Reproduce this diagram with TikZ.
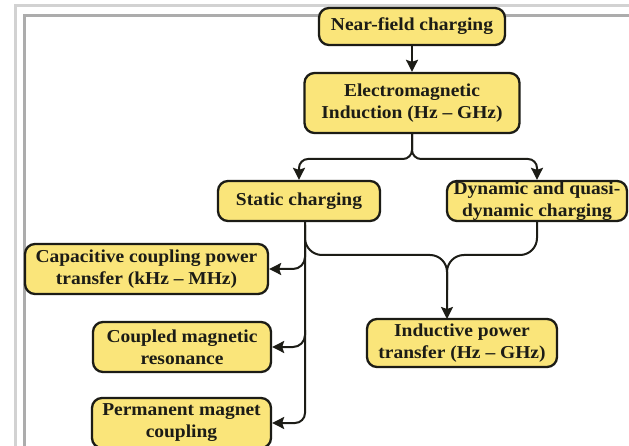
\documentclass[tikz,border=0pt]{standalone}
\usepackage{fontspec}
\newfontfamily\boxfont{Liberation Serif}[FakeStretch=1.07,Ligatures=TeX]
\usetikzlibrary{arrows.meta,calc}
\definecolor{boxyellow}{RGB}{250,229,122}
\definecolor{inkdark}{RGB}{28,28,22}
\tikzset{
  fbox/.style={draw=inkdark, fill=boxyellow, line width=2.3pt, rounded corners=10pt,
    align=center, inner sep=0pt, text=inkdark,
    font=\boxfont\bfseries\fontsize{18.2pt}{22pt}\selectfont},
  conn/.style={draw=inkdark, line width=2pt},
  arr/.style={conn, -{Stealth[length=12pt,width=12pt,inset=2pt]}},
}
\begin{document}
\begin{tikzpicture}[x=1pt,y=-1pt]
\useasboundingbox (0,0) rectangle (629,446);
\clip (0,0) rectangle (629,446);
\fill[white] (0,0) rectangle (629,446);
% frame
\draw[gray!35, line width=3pt] (15,446) -- (15,6) -- (629,6);
\draw[gray!65, line width=3.5pt] (24.5,446) -- (24.5,15.5) -- (629,15.5);
% nodes
\node[fbox, minimum width=186pt, minimum height=37pt] (near) at (412,26.5) {Near-field charging};
\node[fbox, minimum width=215pt, minimum height=60pt] (em) at (412,103) {Electromagnetic\\Induction (Hz – GHz)};
\node[fbox, minimum width=162pt, minimum height=40pt] (static) at (299,201) {Static charging};
\node[fbox, minimum width=180pt, minimum height=40pt] (dyn) at (537,201) {Dynamic and quasi-\\dynamic charging};
\node[fbox, minimum width=243pt, minimum height=50pt] (cap) at (146.5,269) {Capacitive coupling power\\transfer (kHz – MHz)};
\node[fbox, minimum width=178pt, minimum height=50pt] (coup) at (182,347) {Coupled magnetic\\resonance};
\node[fbox, minimum width=179pt, minimum height=50pt] (perm) at (181.5,423) {Permanent magnet\\coupling};
\node[fbox, minimum width=190pt, minimum height=48pt] (ind) at (462,343) {Inductive power\\transfer (Hz – GHz)};
% coordinates
\coordinate (sb) at ($(static.south)+(6,0)$);
\coordinate (merge) at (447,255);
\coordinate (indtop) at (447,319);
% connectors
\draw[arr] (near.south) -- (em.north);
\draw[arr, rounded corners=9pt] (em.south) -- (412,159) -- (static.north |- 0,159) -- (static.north);
\draw[arr, rounded corners=9pt] (em.south) -- (412,159) -- (dyn.north |- 0,159) -- (dyn.north);
\draw[arr, rounded corners=10pt] (sb) -- (305,423) -- (perm.east);
\draw[arr, rounded corners=12pt] (305,245) -- (305,269) -- (cap.east);
\draw[arr, rounded corners=12pt] (305,330) -- (305,347) -- (coup.east);
\draw[conn, rounded corners=17pt] (305,225) -- (305,255) -- (merge) -- (447,290);
\draw[arr, rounded corners=17pt] (dyn.south) -- (537,255) -- (merge) -- (indtop);
\end{tikzpicture}
\end{document}
